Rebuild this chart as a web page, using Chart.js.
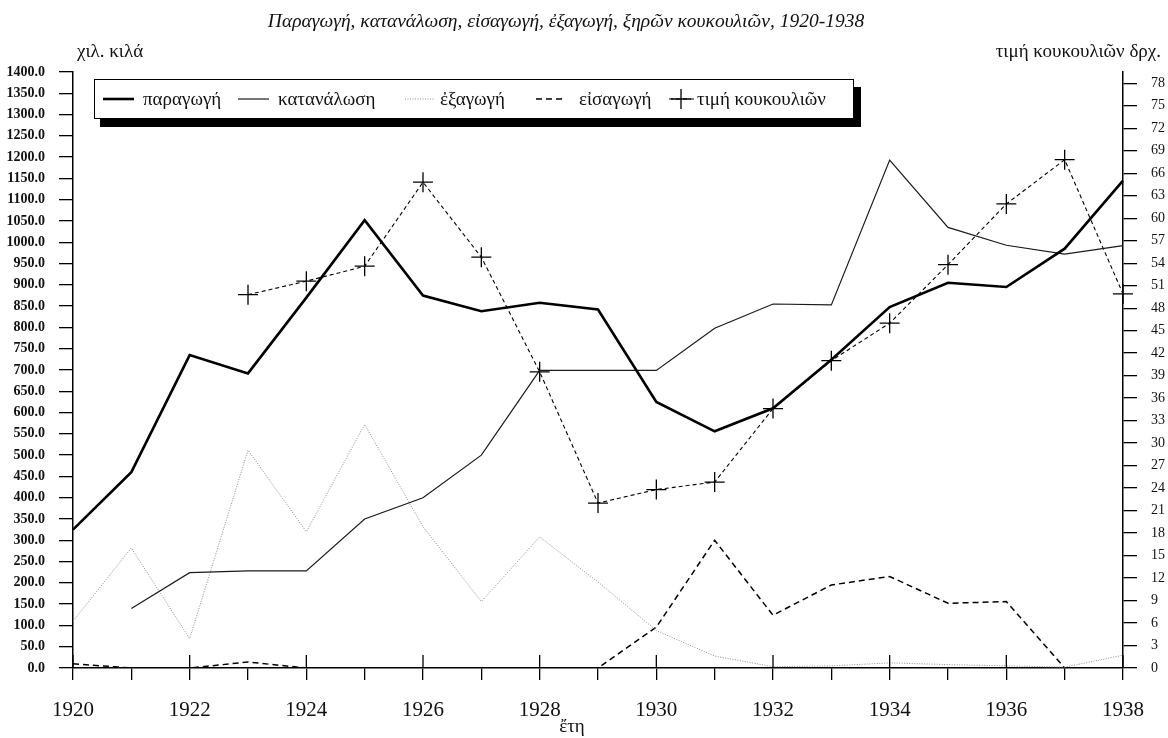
<!DOCTYPE html>
<html><head><meta charset="utf-8">
<script src="https://cdn.jsdelivr.net/npm/chart.js@4.4.0/dist/chart.umd.min.js"></script>
<style>html,body{margin:0;padding:0;background:#fff}canvas{display:block}</style>
</head><body>
<canvas id="c" width="1168" height="738"></canvas>
<script>
// ---- data ----
const years = [1920,1921,1922,1923,1924,1925,1926,1927,1928,1929,1930,1931,1932,1933,1934,1935,1936,1937,1938];
const production  = [325,460,735,692,870,1052,875,838,858,842,625,556,610,724,848,905,895,985,1145];
const consumption = [null,140,224,228,228,350,400,500,699,699,699,798,855,853,1193,1035,993,972,992];
const exportsData = [110,282,69,512,320,572,332,156,308,202,88,28,3,5,12,8,5,2,30];
const imports     = [10,0,0,14,0,0,0,0,0,0,96,300,124,195,215,152,156,0,0];
const price       = [null,null,null,49.8,51.6,53.6,64.8,54.8,39.5,22.0,23.8,24.8,34.6,41.0,46.0,53.8,61.9,67.8,49.9];
const seriesNames = ['παραγωγή','κατανάλωση','ἐξαγωγή','εἰσαγωγή','τιμή κουκουλιῶν'];
const titleText = 'Παραγωγή, κατανάλωση, εἰσαγωγή, ἐξαγωγή, ξηρῶν κουκουλιῶν, 1920-1938';
const leftAxisTitle = 'χιλ. κιλά';
const rightAxisTitle = 'τιμή κουκουλιῶν δρχ.';
const xAxisTitle = 'ἔτη';
const leftMax = 1400, leftStep = 50;
const rightMax = 79.5, rightStep = 3;

const SERIF = "'Liberation Serif','DejaVu Serif','Times New Roman',serif";

const decor = {
  id: 'decor',
  afterDraw(chart) {
    const ctx = chart.ctx, xs = chart.scales.x, ca = chart.chartArea;
    ctx.save();
    // major (labelled) x ticks also rise above the axis
    ctx.strokeStyle = '#000'; ctx.lineWidth = 1.3;
    years.forEach((yr, i) => {
      if (yr % 2 === 0) {
        const px = xs.getPixelForValue(i);
        ctx.beginPath(); ctx.moveTo(px, ca.bottom); ctx.lineTo(px, ca.bottom - 13); ctx.stroke();
      }
    });
    // texts
    ctx.fillStyle = '#111'; ctx.textBaseline = 'middle';
    ctx.font = `italic 19.5px ${SERIF}`; ctx.textAlign = 'center';
    ctx.fillText(titleText, 566, 22);
    ctx.font = `19px ${SERIF}`;
    ctx.textAlign = 'left'; ctx.fillText(leftAxisTitle, 77, 52);
    ctx.textAlign = 'right'; ctx.fillText(rightAxisTitle, 1161, 52);
    ctx.textAlign = 'center'; ctx.fillText(xAxisTitle, 572, 727);

    // legend box with shadow
    ctx.fillStyle = '#000'; ctx.fillRect(100, 87, 761, 40);
    ctx.fillStyle = '#fff'; ctx.fillRect(94, 79, 759, 39);
    ctx.strokeStyle = '#000'; ctx.lineWidth = 1; ctx.strokeRect(94.5, 79.5, 759, 39);
    const ly = 99;
    const items = [
      {ds: 0, x0: 103, x1: 134, tx: 143},
      {ds: 1, x0: 238, x1: 269, tx: 278},
      {ds: 2, x0: 405, x1: 434, tx: 440},
      {ds: 3, x0: 536, x1: 566, tx: 579},
      {ds: 4, x0: 669, x1: 695, tx: 697, cross: 681}
    ];
    items.forEach(it => {
      const d = chart.data.datasets[it.ds];
      ctx.save();
      ctx.strokeStyle = d.borderColor; ctx.lineWidth = d.borderWidth;
      ctx.setLineDash(d.borderDash || []);
      ctx.beginPath(); ctx.moveTo(it.x0, ly); ctx.lineTo(it.x1, ly); ctx.stroke();
      if (it.cross) {
        ctx.setLineDash([]); ctx.lineWidth = 1.3; ctx.strokeStyle = '#000';
        ctx.beginPath();
        ctx.moveTo(it.cross - 10, ly); ctx.lineTo(it.cross + 10, ly);
        ctx.moveTo(it.cross, ly - 10); ctx.lineTo(it.cross, ly + 10);
        ctx.stroke();
      }
      ctx.restore();
      ctx.fillStyle = '#111'; ctx.font = `19px ${SERIF}`; ctx.textAlign = 'left';
      ctx.fillText(seriesNames[it.ds], it.tx, ly + 1);
    });
    ctx.restore();
  }
};

new Chart(document.getElementById('c'), {
  type: 'line',
  data: {
    labels: years,
    datasets: [
      {label: seriesNames[0], data: production, borderColor: '#000', borderWidth: 2.6, pointRadius: 0, yAxisID: 'y'},
      {label: seriesNames[1], data: consumption, borderColor: '#1a1a1a', borderWidth: 1.2, pointRadius: 0, yAxisID: 'y'},
      {label: seriesNames[2], data: exportsData, borderColor: '#8c8c8c', borderWidth: 1, borderDash: [1, 1.5], pointRadius: 0, yAxisID: 'y'},
      {label: seriesNames[3], data: imports, borderColor: '#000', borderWidth: 1.5, borderDash: [6, 4], pointRadius: 0, yAxisID: 'y'},
      {label: seriesNames[4], data: price, borderColor: '#000', borderWidth: 1.1, borderDash: [4, 3],
       pointStyle: 'cross', pointRadius: 10, pointBorderWidth: 1.3, pointBorderColor: '#000', pointHoverRadius: 10, yAxisID: 'y1'}
    ]
  },
  options: {
    responsive: false,
    animation: false,
    devicePixelRatio: 1,
    layout: {padding: {top: 72, left: 0, right: 0, bottom: 0}},
    plugins: {legend: {display: false}, title: {display: false}, tooltip: {enabled: false}},
    elements: {line: {tension: 0}},
    scales: {
      x: {
        type: 'category', offset: false,
        grid: {display: true, drawOnChartArea: false, drawTicks: true, tickLength: 12, color: '#000', lineWidth: 1.3},
        border: {display: true, color: '#000', width: 1.5},
        ticks: {autoSkip: false, maxRotation: 0, padding: 18, color: '#111', font: {family: SERIF, size: 21},
          callback: (v, i) => (years[i] % 2 === 0 ? String(years[i]) : '')},
        afterFit: s => { s.height = 70; }
      },
      y: {
        position: 'left', min: 0, max: leftMax,
        grid: {display: true, drawOnChartArea: false, drawTicks: true, tickLength: 14, color: '#000', lineWidth: 1.3},
        border: {display: true, color: '#000', width: 1.5},
        ticks: {stepSize: leftStep, autoSkip: false, padding: 14, color: '#111', font: {family: SERIF, size: 14, weight: 'bold'},
          callback: v => Number(v).toFixed(1)},
        afterFit: s => { s.width = 73; }
      },
      y1: {
        position: 'right', min: 0, max: rightMax,
        grid: {display: true, drawOnChartArea: false, drawTicks: true, tickLength: 14, color: '#000', lineWidth: 1.3},
        border: {display: true, color: '#000', width: 1.5},
        ticks: {stepSize: rightStep, includeBounds: false, autoSkip: false, padding: 14, color: '#111', font: {family: SERIF, size: 14}},
        afterFit: s => { s.width = 45; }
      }
    }
  },
  plugins: [decor]
});
</script>
</body></html>
